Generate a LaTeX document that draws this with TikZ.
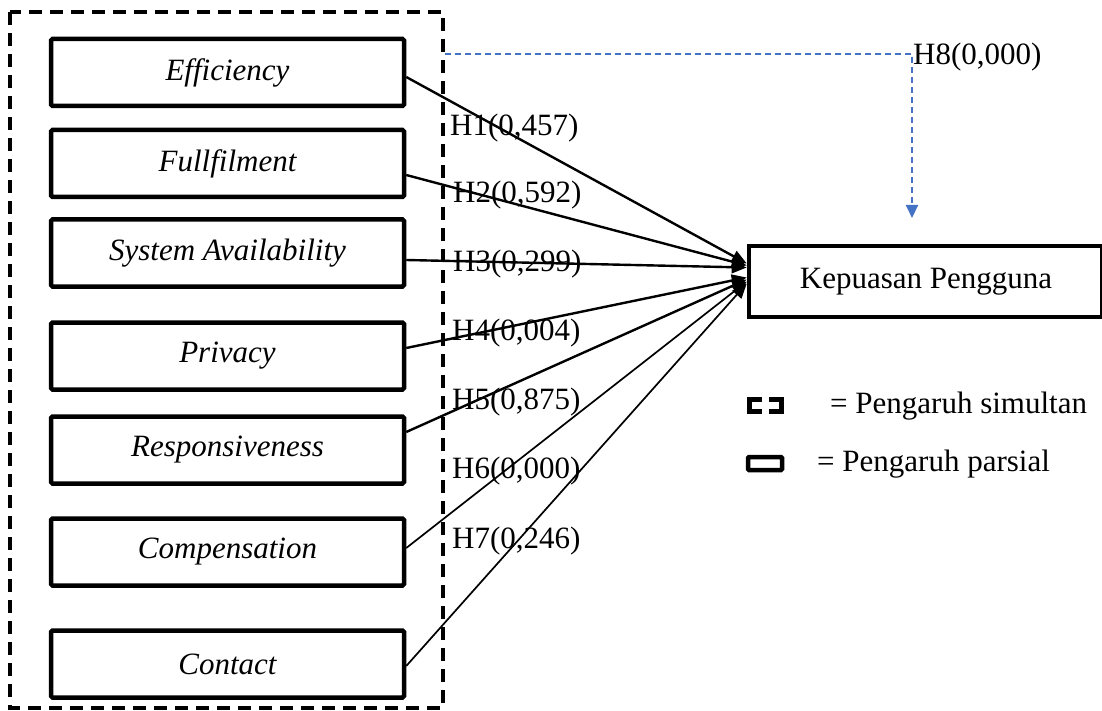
\documentclass[tikz,border=0pt]{standalone}
\usepackage{fontspec}
\setmainfont{Liberation Serif}
\usetikzlibrary{arrows.meta}
\definecolor{simblue}{RGB}{68,114,196}
\begin{document}
\begin{tikzpicture}[x=1pt,y=-1pt,
  txt/.style={font=\fontsize{31}{36}\selectfont, inner sep=0pt},
  varbox/.style={draw, line width=4.5pt, rounded corners=1.5pt,
    minimum width=353pt, minimum height=67pt, inner sep=0pt,
    font=\fontsize{31}{36}\selectfont\itshape},
  groupbox/.style={draw, line width=4.5pt, dash pattern=on 13pt off 8pt},
  conn/.style={line width=2.4pt, -{Triangle[length=15pt,width=12pt]}},
  thinconn/.style={conn, line width=1.7pt},
  simline/.style={simblue, line width=2pt, dash pattern=on 6pt off 4pt},
  hlabel/.style={txt, anchor=west}]
\useasboundingbox (0,0) rectangle (1102,711);

% group of independent variables
\draw[groupbox] (10,12) rectangle (443,708);

\node[varbox] (eff) at (227.5,72.5) {Efficiency};
\node[varbox] (ful) at (227.5,163.5) {Fullfilment};
\node[varbox] (sys) at (227.5,253) {System Availability};
\node[varbox] (pri) at (227.5,356) {Privacy};
\node[varbox] (res) at (227.5,450) {Responsiveness};
\node[varbox] (com) at (227.5,552) {Compensation};
\node[varbox] (con) at (227.5,664) {Contact};

% dependent variable
\node[draw, line width=4.5pt, minimum width=353pt, minimum height=71pt, inner sep=0pt]
  (kep) at (925.5,281.5) {};
\node[txt] (keptxt) at (926,282) {Kepuasan Pengguna};

% partial effects
\draw[conn] ([yshift=-4.5pt]eff.east) -- ([yshift=18pt]kep.west);
\draw[conn] ([yshift=-11.5pt]ful.east) -- ([yshift=16pt]kep.west);
\draw[conn] ([yshift=-7pt]sys.east) -- ([yshift=14pt]kep.west);
\draw[conn] ([yshift=8pt]pri.east) -- ([yshift=4pt]kep.west);
\draw[conn] ([yshift=18pt]res.east) -- ([yshift=2pt]kep.west);
\draw[thinconn] ([yshift=4pt]com.east) -- (kep.west);
\draw[thinconn] ([yshift=-2pt]con.east) -- ([yshift=-2pt]kep.west);

\node[hlabel] (h1) at (450,128) {H1(0,457)};
\node[hlabel] (h2) at (453,195) {H2(0,592)};
\node[hlabel] (h3) at (453,264) {H3(0,299)};
\node[hlabel] (h4) at (452,333) {H4(0,004)};
\node[hlabel] (h5) at (452,402) {H5(0,875)};
\node[hlabel] (h6) at (452,471) {H6(0,000)};
\node[hlabel] (h7) at (452,541) {H7(0,246)};

% simultaneous effect
\coordinate (h8s) at (445,54);
\coordinate (h8c) at (912,54);
\coordinate (h8e) at (912,218);
\draw[simline, -{Triangle[length=13pt,width=12pt]}] (h8s) -- (h8c) -- (h8e);
\node[hlabel] (h8) at (913,57) {H8(0,000)};

% legend
\draw[line width=4.5pt] (762,399.5) -- (749.5,399.5) -- (749.5,411.5) -- (762,411.5);
\draw[line width=4.5pt] (769,399.5) -- (781.5,399.5) -- (781.5,411.5) -- (769,411.5);
\node[hlabel] (legs) at (830,406) {= Pengaruh simultan};
\draw[line width=4.5pt, rounded corners=1pt] (748,457) rectangle (782,470);
\node[hlabel] (legp) at (817,464) {= Pengaruh parsial};
\end{tikzpicture}
\end{document}
